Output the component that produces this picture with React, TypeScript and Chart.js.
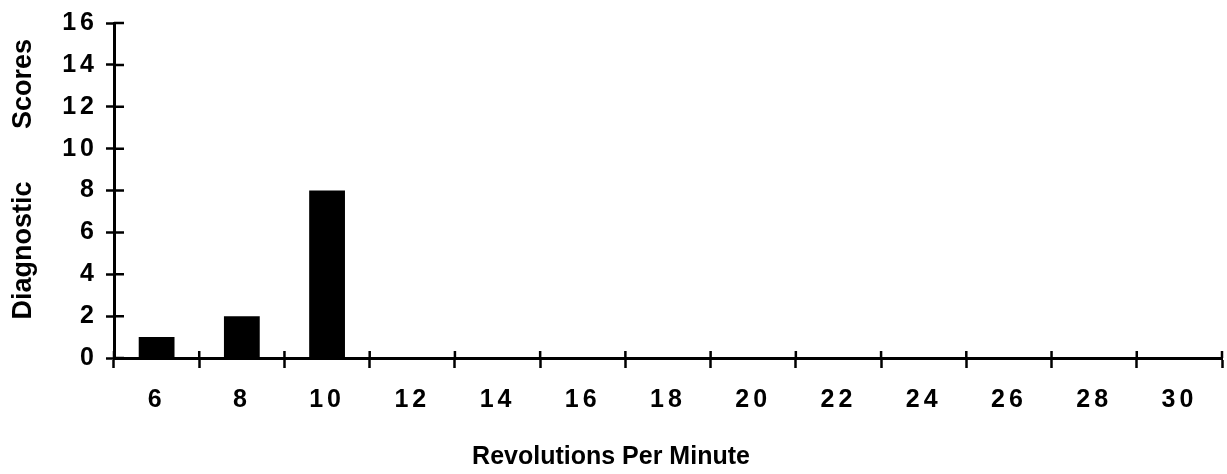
import React, { useEffect, useRef } from 'react';
import { Chart, registerables } from 'chart.js';

Chart.register(...registerables);

const categories = ['6', '8', '10', '12', '14', '16', '18', '20', '22', '24', '26', '28', '30'];
const scores = [1, 2, 8, 0, 0, 0, 0, 0, 0, 0, 0, 0, 0];
const yTickValues = [0, 2, 4, 6, 8, 10, 12, 14, 16];
const xTitle = 'Revolutions Per Minute';
const yTitle = '   Diagnostic       Scores';

const FONT = "'Liberation Sans', Arial, Helvetica, sans-serif";

const innerTicks = {
  id: 'innerTicks',
  afterDraw(chart: any) {
    const { ctx, chartArea } = chart;
    const xs = chart.scales.x;
    const ys = chart.scales.y;
    ctx.save();
    ctx.strokeStyle = '#000';
    ctx.lineWidth = 2.5;
    ctx.beginPath();
    ys.ticks.forEach((t: any) => {
      const py = ys.getPixelForValue(t.value);
      ctx.moveTo(chartArea.left, py);
      ctx.lineTo(chartArea.left + 10, py);
    });
    for (let i = 0; i <= categories.length; i++) {
      const px = xs.getPixelForValue(i - 0.5);
      ctx.moveTo(px, chartArea.bottom);
      ctx.lineTo(px, chartArea.bottom - 7);
    }
    ctx.stroke();
    ctx.restore();
  },
};

const spacedLabels = {
  id: 'spacedLabels',
  beforeDraw(chart: any) {
    ['x', 'y'].forEach((id) => {
      const s: any = chart.scales[id];
      if (!s || s._spaced) return;
      const orig = s.drawLabels;
      s.drawLabels = function (area: any) {
        const c: any = this.ctx;
        const prev = c.letterSpacing;
        c.letterSpacing = '4px';
        orig.call(this, area);
        c.letterSpacing = prev || '0px';
      };
      s._spaced = true;
    });
  },
};

export default function App() {
  const ref = useRef<HTMLCanvasElement | null>(null);

  useEffect(() => {
    if (!ref.current) return;
    const chart = new Chart(ref.current, {
      type: 'bar',
      data: {
        labels: categories,
        datasets: [
          {
            data: scores,
            backgroundColor: '#000',
            borderWidth: 0,
            barPercentage: 0.42,
            categoryPercentage: 1,
          },
        ],
      },
      plugins: [innerTicks, spacedLabels],
      options: {
        animation: false,
        responsive: true,
        maintainAspectRatio: false,
        layout: { padding: { top: 22, right: 5, left: 0, bottom: 0 } },
        plugins: {
          legend: { display: false },
          tooltip: { enabled: false },
          title: {
            display: true,
            position: 'bottom',
            text: xTitle,
            color: '#000',
            font: { family: FONT, size: 25, weight: 'bold' },
            padding: { top: 27, bottom: 2 },
          },
        },
        scales: {
          x: {
            type: 'category',
            offset: true,
            afterFit: (s: any) => {
              s.height = 57;
            },
            grid: {
              offset: true,
              drawOnChartArea: false,
              drawTicks: true,
              tickLength: 10,
              tickWidth: 2.5,
              tickColor: '#000',
            },
            border: { display: true, color: '#000', width: 3 },
            ticks: {
              color: '#000',
              padding: 17,
              maxRotation: 0,
              autoSkip: false,
              font: { family: FONT, size: 25, weight: 'bold' },
            },
          },
          y: {
            min: 0,
            max: 16,
            afterBuildTicks: (s: any) => {
              s.ticks = yTickValues.map((v) => ({ value: v }));
            },
            afterFit: (s: any) => {
              s.width = 114;
            },
            grid: {
              drawOnChartArea: false,
              drawTicks: true,
              tickLength: 8,
              tickWidth: 2.5,
              tickColor: '#000',
            },
            border: { display: true, color: '#000', width: 3 },
            ticks: {
              color: '#000',
              padding: 8,
              font: { family: FONT, size: 25, weight: 'bold' },
            },
            title: {
              display: true,
              text: yTitle,
              color: '#000',
              font: { family: FONT, size: 27, weight: 'bold' },
              padding: { top: 7, bottom: 0 },
            },
          },
        },
      },
    });
    return () => chart.destroy();
  }, []);

  return (
    <div style={{ position: 'fixed', left: 0, top: 0, width: 1227, height: 474, background: '#fff' }}>
      <canvas ref={ref} />
    </div>
  );
}
